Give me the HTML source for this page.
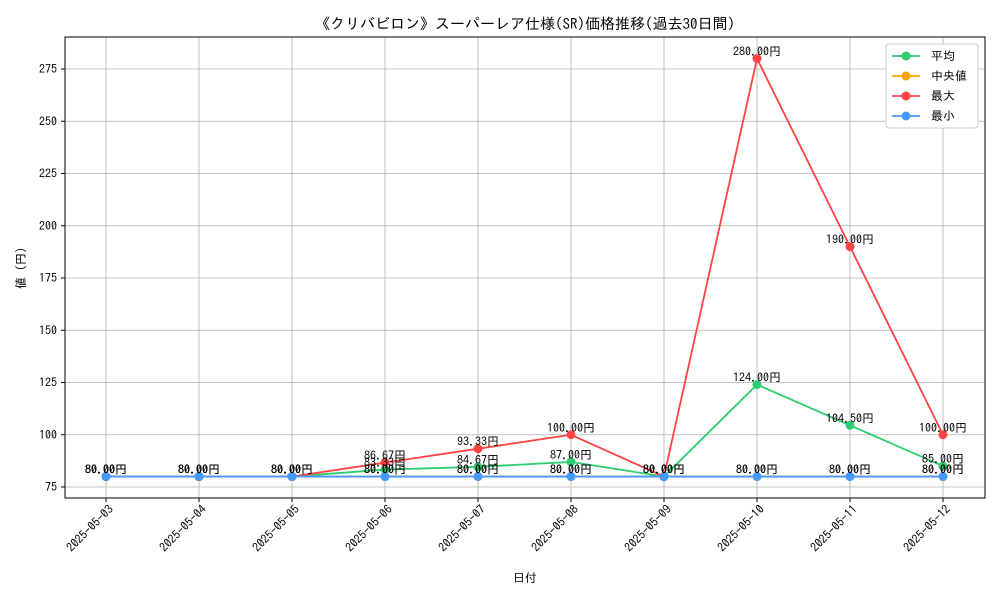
<!DOCTYPE html>
<html><head><meta charset="utf-8"><style>
body{margin:0;background:#fff;font-family:"IPAGothic","Noto Sans CJK JP",sans-serif}
svg text{font-family:"IPAGothic","Noto Sans CJK JP",sans-serif}
</style></head><body>
<svg id="c" width="1000" height="600" xmlns="http://www.w3.org/2000/svg"></svg>
<script>
const categories=["2025-05-03","2025-05-04","2025-05-05","2025-05-06","2025-05-07","2025-05-08","2025-05-09","2025-05-10","2025-05-11","2025-05-12"];
const meanVals=[80,80,80,83.33,84.67,87,80,124,104.5,85];
const medianVals=[80,80,80,80,80,80,80,80,80,80];
const maxVals=[80,80,80,86.67,93.33,100,80,280,190,100];
const minVals=[80,80,80,80,80,80,80,80,80,80];
const yTicks=[75,100,125,150,175,200,225,250,275];
const seriesNames=["平均","中央値","最大","最小"];
const colors=["#2ecc71","#ffa500","#ff4444","#4499ff"];
const svg=document.getElementById('c');const NS="http://www.w3.org/2000/svg";
const L=65,R=985,T=37,B=498;
const x=i=>106+i*(943-106)/(categories.length-1);
const y=v=>487-(v-75)*(487-69)/200;
function mk(t,a,p){const e=document.createElementNS(NS,t);for(const k in a)e.setAttribute(k,a[k]);(p||svg).appendChild(e);return e;}
const grid=mk('g',{});


categories.forEach((c,i)=>{mk('line',{x1:x(i),x2:x(i),y1:T,y2:B,stroke:'#b0b0b0','stroke-width':0.8},grid);
mk('line',{x1:x(i),x2:x(i),y1:B,y2:B+4,stroke:'#000'});
const ax=x(i)+8,ay=B+12;
const t=mk('text',{x:ax,y:ay,'font-size':12,'text-anchor':'end',transform:`rotate(-45 ${ax} ${ay})`});t.textContent=c;

});
yTicks.forEach(v=>{mk('line',{x1:L,x2:R,y1:y(v),y2:y(v),stroke:'#b0b0b0','stroke-width':0.8},grid);
mk('line',{x1:L-4,x2:L,y1:y(v),y2:y(v),stroke:'#000'});
const t=mk('text',{x:L-8,y:y(v)+4,'font-size':12,'text-anchor':'end'});t.textContent=v;

});
const all=[meanVals,medianVals,maxVals,minVals];
all.forEach((vals,s)=>{const g=mk('g',{});


mk('polyline',{points:vals.map((v,i)=>x(i)+','+y(v)).join(' '),fill:'none',stroke:colors[s],'stroke-width':1.8},g);
vals.forEach((v,i)=>{const c=mk('circle',{cx:x(i),cy:y(v),r:4.5,fill:colors[s]},g);

});});
all.forEach((vals,s)=>vals.forEach((v,i)=>{const t=mk('text',{x:x(i),y:y(v)-3,'font-size':12,'text-anchor':'middle'});t.textContent=v.toFixed(2)+'円';

}));
mk('rect',{x:L,y:T,width:R-L,height:B-T,fill:'none',stroke:'#000','stroke-width':1});
let t=mk('text',{x:525,y:29,'font-size':15,'text-anchor':'middle'});t.textContent='《クリバビロン》スーパーレア仕様(SR)価格推移(過去30日間)';

t=mk('text',{x:525,y:582,'font-size':12,'text-anchor':'middle'});t.textContent='日付';

t=mk('text',{x:25,y:268,'font-size':12,'text-anchor':'middle',transform:'rotate(-90 25 268)'});t.textContent='値 (円)';

const lg=mk('g',{});


mk('rect',{x:886,y:44,width:92,height:84,fill:'#fff',stroke:'#ccc',rx:3},lg);
seriesNames.forEach((n,s)=>{const yy=56+s*20;
mk('line',{x1:892,x2:920,y1:yy,y2:yy,stroke:colors[s],'stroke-width':1.8},lg);
mk('circle',{cx:906,cy:yy,r:4.5,fill:colors[s]},lg);
const e=mk('text',{x:931,y:yy+4,'font-size':12},lg);e.textContent=n;

});
</script>
</body></html>
